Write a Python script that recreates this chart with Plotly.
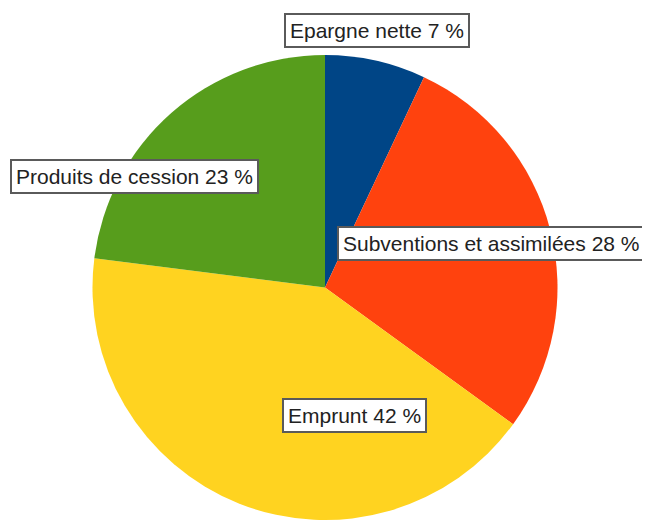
import plotly.graph_objects as go

labels = ["Epargne nette", "Subventions et assimilées", "Emprunt", "Produits de cession"]
values = [7, 28, 42, 23]
colors = ["#004586", "#ff420e", "#ffd320", "#579d1c"]
# left edge x, vertical centre y (page pixels)
label_pos = [(284, 30.5), (337, 243), (282, 415), (10, 176.5)]

OFF = 8  # default body margin of the html page
W, H = 650 - OFF, 520 - OFF
cx, cy, r = 325 - OFF, 288 - OFF, 233

fig = go.Figure(go.Pie(
    labels=labels, values=values, sort=False, direction="clockwise", rotation=0,
    marker=dict(colors=colors, line=dict(width=0)),
    textinfo="none", hoverinfo="label+percent", showlegend=False,
    domain=dict(x=[(cx - r)/W, (cx + r)/W], y=[0.0, 1 - (cy - r)/H]),
))

for lab, v, (px, py) in zip(labels, values, label_pos):
    fig.add_annotation(
        x=(px - OFF)/W, y=1-(py - OFF)/H, xref="paper", yref="paper", showarrow=False,
        text=f"{lab} {v} %", xanchor="left", yanchor="middle",
        font=dict(family="Liberation Sans, Arial, sans-serif", size=21, color="#222"),
        bgcolor="white", bordercolor="#5a5a5a", borderwidth=2, borderpad=4,
    )

fig.update_layout(width=W, height=H, margin=dict(l=0, r=0, t=0, b=0),
                  paper_bgcolor="white", plot_bgcolor="white")
fig.write_html("out.html")
